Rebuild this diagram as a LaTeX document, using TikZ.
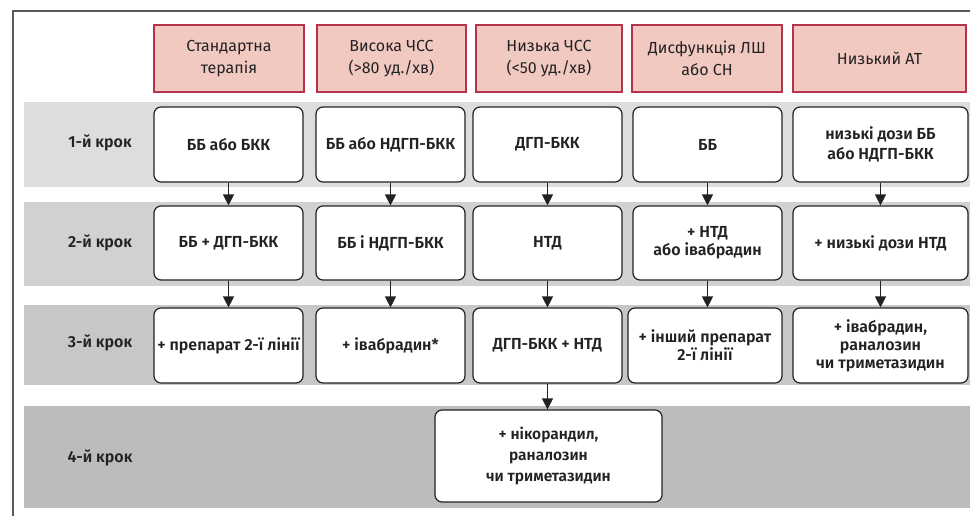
\documentclass[tikz,border=0pt]{standalone}
\usepackage{fontspec}
\setmainfont{Fira Sans}[BoldFont={* SemiBold}]
\usetikzlibrary{arrows.meta}
\definecolor{hdrfill}{HTML}{F2C9C1}
\definecolor{hdrdraw}{HTML}{B8324B}
\definecolor{bandA}{HTML}{DCDDDF}
\definecolor{bandB}{HTML}{D0D1D3}
\definecolor{bandC}{HTML}{C6C7C9}
\definecolor{bandD}{HTML}{BBBCBE}
\definecolor{framec}{HTML}{5A5A5A}
\definecolor{txt}{HTML}{222222}
\begin{document}
\begin{tikzpicture}[x=1pt,y=-1pt,
  hdr/.style={draw=hdrdraw, fill=hdrfill, line width=1.2pt, minimum height=67pt, inner sep=0pt, align=center, text=txt, font=\fontsize{16}{22}\selectfont},
  stepbox/.style={draw=txt, fill=white, rounded corners=7pt, line width=1.2pt, inner sep=0pt, align=center, text=txt, font=\bfseries\fontsize{16}{19}\selectfont},
  lab/.style={text=txt, font=\bfseries\fontsize{16}{18}\selectfont},
  arr/.style={-{Triangle[length=11pt,width=11pt]}, line width=1.3pt, draw=txt}]
\useasboundingbox (0,0) rectangle (970,516);
\fill[white] (0,0) rectangle (970,516);
% frame
\draw[framec, line width=1.5pt] (970,11) -- (13,11) -- (13,516);
% bands
\fill[bandA] (24,102) rectangle (970,187);
\fill[bandB] (24,202) rectangle (970,286);
\fill[bandC] (24,305) rectangle (970,385);
\fill[bandD] (24,406) rectangle (970,508);
% headers
\node[hdr, minimum width=150pt] (h1) at (229,58.5) {Стандартна\\терапія};
\node[hdr, minimum width=149pt] (h2) at (391.5,58.5) {Висока ЧСС\\(>80 уд./хв)};
\node[hdr, minimum width=146pt] (h3) at (549,58.5) {Низька ЧСС\\(<50 уд./хв)};
\node[hdr, minimum width=150pt] (h4) at (707,58.5) {Дисфункція ЛШ\\або СН};
\node[hdr, minimum width=173pt] (h5) at (879.5,58.5) {Низький АТ};
% step labels
\node[lab] (l1) at (100,143) {1-й крок};
\node[lab] (l2) at (100,243) {2-й крок};
\node[lab] (l3) at (100,343) {3-й крок};
\node[lab] (l4) at (100,458) {4-й крок};
% row 1
\node[stepbox, minimum width=149pt, minimum height=75pt] (a1) at (228.5,144.5) {ББ або БКК};
\node[stepbox, minimum width=149pt, minimum height=75pt] (a2) at (390.5,144.5) {ББ або НДГП-БКК};
\node[stepbox, minimum width=149pt, minimum height=75pt] (a3) at (547.5,144.5) {ДГП-БКК};
\node[stepbox, minimum width=149pt, minimum height=75pt] (a4) at (707.5,144.5) {ББ};
\node[stepbox, minimum width=175pt, minimum height=75pt, font=\bfseries\fontsize{16}{20}\selectfont] (a5) at (880.5,144.5) {низькі дози ББ\\або НДГП-БКК};
% row 2
\node[stepbox, minimum width=149pt, minimum height=74pt] (b1) at (228.5,243) {ББ + ДГП-БКК};
\node[stepbox, minimum width=149pt, minimum height=74pt] (b2) at (390.5,243) {ББ і НДГП-БКК};
\node[stepbox, minimum width=149pt, minimum height=74pt] (b3) at (547.5,243) {НТД};
\node[stepbox, minimum width=149pt, minimum height=74pt, font=\bfseries\fontsize{16}{18}\selectfont] (b4) at (707.5,243) {+ НТД\\або івабрадин};
\node[stepbox, minimum width=175pt, minimum height=74pt] (b5) at (880.5,243) {+ низькі дози НТД};
% row 3
\node[stepbox, minimum width=149pt, minimum height=75pt] (c1) at (228.5,345.5) {+ препарат 2-ї лінії};
\node[stepbox, minimum width=149pt, minimum height=75pt] (c2) at (390.5,345.5) {+ івабрадин*};
\node[stepbox, minimum width=149pt, minimum height=75pt] (c3) at (547.5,345.5) {ДГП-БКК + НТД};
\node[stepbox, minimum width=154pt, minimum height=75pt, font=\bfseries\fontsize{16}{18}\selectfont] (c4) at (705,345.5) {+ інший препарат\\2-ї лінії};
\node[stepbox, minimum width=175pt, minimum height=75pt, font=\bfseries\fontsize{16}{18}\selectfont] (c5) at (880.5,345.5) {+ івабрадин,\\раналозин\\чи триметазидин};
% row 4
\node[stepbox, minimum width=227pt, minimum height=92pt, font=\bfseries\fontsize{15.5}{21}\selectfont] (d1) at (548.5,456) {+ нікорандил,\\раналозин\\чи триметазидин};
% arrows
\foreach \i in {1,...,5}{
  \draw[arr] (a\i) -- (a\i |- b\i.north);
  \draw[arr] (b\i) -- (b\i |- c\i.north);
}
\draw[arr] (c3) -- (c3 |- d1.north);
\end{tikzpicture}
\end{document}
